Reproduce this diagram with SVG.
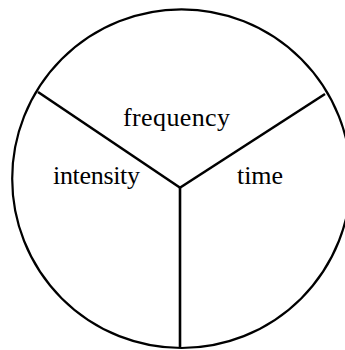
<svg xmlns="http://www.w3.org/2000/svg" width="345" height="350" viewBox="0 0 345 350">
<style>
.outline{fill:none;stroke:#000;stroke-width:2.2}
.spoke{fill:none;stroke:#000;stroke-width:2.6;stroke-linecap:butt}
.lbl{font-family:"Liberation Serif","Times New Roman",serif;font-size:26px;fill:#000}
</style>
<rect width="345" height="350" fill="#fff"/>
<g id="circle"><circle class="outline" cx="181.5" cy="178.7" r="169.3"/></g>
<g id="connectors">
<line class="spoke" x1="38" y1="92" x2="180.5" y2="188"/>
<line class="spoke" x1="325" y1="94" x2="179.5" y2="188"/>
<line class="spoke" x1="180" y1="187" x2="180" y2="348"/>
</g>
<g id="frequency"><text class="lbl" x="123" y="126" textLength="107" lengthAdjust="spacing">frequency</text></g>
<g id="intensity"><text class="lbl" x="53" y="184" textLength="87" lengthAdjust="spacing">intensity</text></g>
<g id="time"><text class="lbl" x="237" y="184" textLength="46" lengthAdjust="spacing">time</text></g>
</svg>
